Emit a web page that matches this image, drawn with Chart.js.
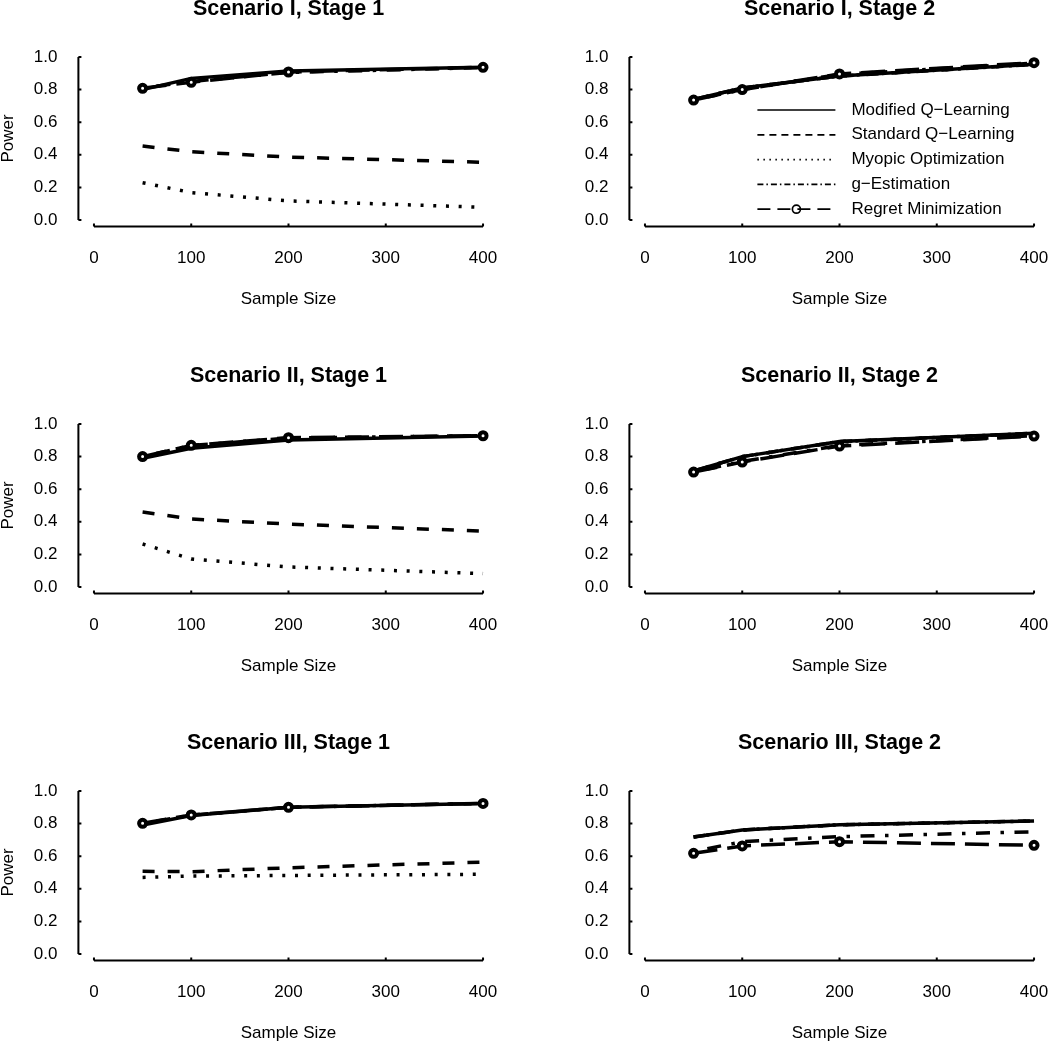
<!DOCTYPE html>
<html>
<head>
<meta charset="utf-8">
<script src="https://cdn.jsdelivr.net/npm/chart.js@4.4.1/dist/chart.umd.min.js"></script>
<style>
  html, body { margin: 0; padding: 0; background: #fff; }
  body { width: 1050px; height: 1043px; position: relative; overflow: hidden; }
  canvas { position: absolute; }
</style>
</head>
<body>
<canvas id="p1" width="525" height="367" style="left:0px;top:-10px"></canvas>
<canvas id="p2" width="525" height="367" style="left:551px;top:-10px"></canvas>
<canvas id="p3" width="525" height="367" style="left:0px;top:357px"></canvas>
<canvas id="p4" width="525" height="367" style="left:551px;top:357px"></canvas>
<canvas id="p5" width="525" height="367" style="left:0px;top:724px"></canvas>
<canvas id="p6" width="525" height="367" style="left:551px;top:724px"></canvas>
<script>
// ---------- Data ----------
const sampleSizes = [50, 100, 200, 400];
const xTicks = [0, 100, 200, 300, 400];
const yTicks = [0, 0.2, 0.4, 0.6, 0.8, 1.0];
const methods = ["Modified Q\u2212Learning", "Standard Q\u2212Learning", "Myopic Optimization", "g\u2212Estimation", "Regret Minimization"];

// Scenario I, Stage 1
const s1a_modQ = [0.800, 0.869, 0.914, 0.937];
const s1a_stdQ = [0.454, 0.419, 0.386, 0.354];
const s1a_myopic = [0.229, 0.168, 0.117, 0.078];
const s1a_gEst = [0.810, 0.850, 0.905, 0.935];
const s1a_regret = [0.808, 0.845, 0.908, 0.937];

// Scenario I, Stage 2
const s1b_modQ = [0.740, 0.810, 0.883, 0.955];
const s1b_stdQ = [0.740, 0.810, 0.883, 0.955];
const s1b_myopic = [0.740, 0.810, 0.883, 0.955];
const s1b_gEst = [0.737, 0.800, 0.893, 0.962];
const s1b_regret = [0.736, 0.800, 0.896, 0.965];

// Scenario II, Stage 1
const s2a_modQ = [0.790, 0.851, 0.902, 0.926];
const s2a_stdQ = [0.460, 0.417, 0.386, 0.343];
const s2a_myopic = [0.264, 0.172, 0.123, 0.082];
const s2a_gEst = [0.800, 0.868, 0.914, 0.928];
const s2a_regret = [0.800, 0.869, 0.916, 0.928];

// Scenario II, Stage 2
const s2b_modQ = [0.712, 0.800, 0.892, 0.943];
const s2b_stdQ = [0.712, 0.800, 0.892, 0.943];
const s2b_myopic = [0.712, 0.800, 0.892, 0.943];
const s2b_gEst = [0.706, 0.770, 0.868, 0.928];
const s2b_regret = [0.705, 0.767, 0.865, 0.926];

// Scenario III, Stage 1
const s3a_modQ = [0.791, 0.850, 0.900, 0.924];
const s3a_stdQ = [0.507, 0.505, 0.529, 0.564];
const s3a_myopic = [0.470, 0.478, 0.482, 0.489];
const s3a_gEst = [0.800, 0.852, 0.900, 0.924];
const s3a_regret = [0.802, 0.853, 0.900, 0.924];

// Scenario III, Stage 2
const s3b_modQ = [0.718, 0.761, 0.793, 0.816];
const s3b_stdQ = [0.718, 0.761, 0.793, 0.816];
const s3b_myopic = [0.718, 0.761, 0.793, 0.816];
const s3b_gEst = [0.630, 0.689, 0.720, 0.750];
const s3b_regret = [0.618, 0.663, 0.689, 0.667];

// ---------- Styles ----------
const FONT = "'Liberation Sans', Arial, Helvetica, sans-serif";
Chart.defaults.font.family = FONT;
Chart.defaults.color = "#000";

const plotDash = [[], [12, 13], [3, 9.7], [3.5, 10.5, 14, 10.5], [24, 10]];
const legendDash = [[], [7, 5], [1.5, 4.5], [6, 3, 1.5, 3], [13, 7]];
const drawOrder = [4, 3, 2, 1, 0];

// R-style detached axes, drawn from the chart's scales
const rAxes = {
  id: "rAxes",
  afterDraw(chart) {
    const { ctx } = chart;
    const xs = chart.scales.x, ys = chart.scales.y;
    const xl = xs.getPixelForValue(xs.min), yb = ys.getPixelForValue(ys.min);
    ctx.save();
    ctx.strokeStyle = "#000";
    ctx.lineWidth = 2;
    ctx.beginPath();
    ctx.moveTo(xl, ys.getPixelForValue(yTicks[0]));
    ctx.lineTo(xl, ys.getPixelForValue(yTicks[yTicks.length - 1]));
    yTicks.forEach((v) => {
      const py = ys.getPixelForValue(v);
      ctx.moveTo(xl, py); ctx.lineTo(xl + 3, py);
    });
    ctx.moveTo(xs.getPixelForValue(xTicks[0]), yb);
    ctx.lineTo(xs.getPixelForValue(xTicks[xTicks.length - 1]), yb);
    xTicks.forEach((v) => {
      const px = xs.getPixelForValue(v);
      ctx.moveTo(px, yb); ctx.lineTo(px, yb - 3);
    });
    ctx.stroke();
    ctx.restore();
  },
};

// legend drawn inside the plot region (top right panel only)
const lineLegend = {
  id: "lineLegend",
  afterDraw(chart, args, opts) {
    if (!opts.show) return;
    const { ctx, chartArea: a } = chart;
    ctx.save();
    ctx.font = "17px " + FONT;
    ctx.strokeStyle = "#000";
    ctx.fillStyle = "#000";
    ctx.textBaseline = "middle";
    methods.forEach((name, i) => {
      const y = a.top + 59.5 + i * 24.8;
      const x0 = a.left + 128, x1 = a.left + 206;
      ctx.lineWidth = 1.7;
      ctx.setLineDash(legendDash[i]);
      ctx.beginPath(); ctx.moveTo(x0, y); ctx.lineTo(x1, y); ctx.stroke();
      if (i === 4) {
        ctx.setLineDash([]);
        ctx.beginPath(); ctx.arc((x0 + x1) / 2, y, 4, 0, Math.PI * 2); ctx.stroke();
      }
      ctx.fillText(name, a.left + 222, y);
    });
    ctx.restore();
  },
};

function makePanel(id, title, series, showPower, showLegend) {
  new Chart(document.getElementById(id), {
    type: "line",
    data: {
      datasets: series.map((vals, i) => ({
        label: methods[i],
        data: sampleSizes.map((x, j) => ({ x: x, y: vals[j] })),
        borderColor: "#000",
        borderWidth: 3.5,
        borderDash: plotDash[i],
        tension: 0,
        order: drawOrder[i],
        pointRadius: i === 4 ? 3.5 : 0,
        pointBorderWidth: 4,
        pointBorderColor: "#000",
        pointBackgroundColor: "#fff",
        fill: false,
      })),
    },
    options: {
      responsive: false,
      animation: false,
      devicePixelRatio: 1,
      layout: { padding: { left: 0, right: 26.4, top: 0, bottom: 0 } },
      plugins: {
        legend: { display: false },
        tooltip: { enabled: false },
        title: {
          display: true,
          text: title,
          fullSize: false,
          font: { size: 21.5, weight: "bold" },
          padding: { top: 6.5, bottom: 28.2 },
        },
        lineLegend: { show: showLegend },
      },
      scales: {
        x: {
          type: "linear",
          min: -16,
          max: 416,
          afterBuildTicks: (s) => { s.ticks = xTicks.map((v) => ({ value: v })); },
          afterFit: (s) => { s.height = 130.5; },
          grid: { display: false, drawTicks: false },
          border: { display: false },
          ticks: { font: { size: 17 }, padding: 21.3, maxRotation: 0, callback: (v) => String(v) },
          title: { display: true, text: "Sample Size", font: { size: 17 }, padding: { top: 0, bottom: 47.3 } },
        },
        y: {
          type: "linear",
          min: -0.04,
          max: 1.04,
          afterBuildTicks: (s) => { s.ticks = yTicks.map((v) => ({ value: v })); },
          afterFit: (s) => { s.width = 78.4; },
          grid: { display: false, drawTicks: false },
          border: { display: false },
          ticks: { font: { size: 17 }, padding: 21, callback: (v) => Number(v).toFixed(1) },
          title: { display: showPower, text: "Power", font: { size: 17 }, padding: { top: -2, bottom: 0 } },
        },
      },
    },
    plugins: [rAxes, lineLegend],
  });
}

makePanel("p1", "Scenario I, Stage 1", [s1a_modQ, s1a_stdQ, s1a_myopic, s1a_gEst, s1a_regret], true, false);
makePanel("p2", "Scenario I, Stage 2", [s1b_modQ, s1b_stdQ, s1b_myopic, s1b_gEst, s1b_regret], false, true);
makePanel("p3", "Scenario II, Stage 1", [s2a_modQ, s2a_stdQ, s2a_myopic, s2a_gEst, s2a_regret], true, false);
makePanel("p4", "Scenario II, Stage 2", [s2b_modQ, s2b_stdQ, s2b_myopic, s2b_gEst, s2b_regret], false, false);
makePanel("p5", "Scenario III, Stage 1", [s3a_modQ, s3a_stdQ, s3a_myopic, s3a_gEst, s3a_regret], true, false);
makePanel("p6", "Scenario III, Stage 2", [s3b_modQ, s3b_stdQ, s3b_myopic, s3b_gEst, s3b_regret], false, false);
</script>
</body>
</html>
